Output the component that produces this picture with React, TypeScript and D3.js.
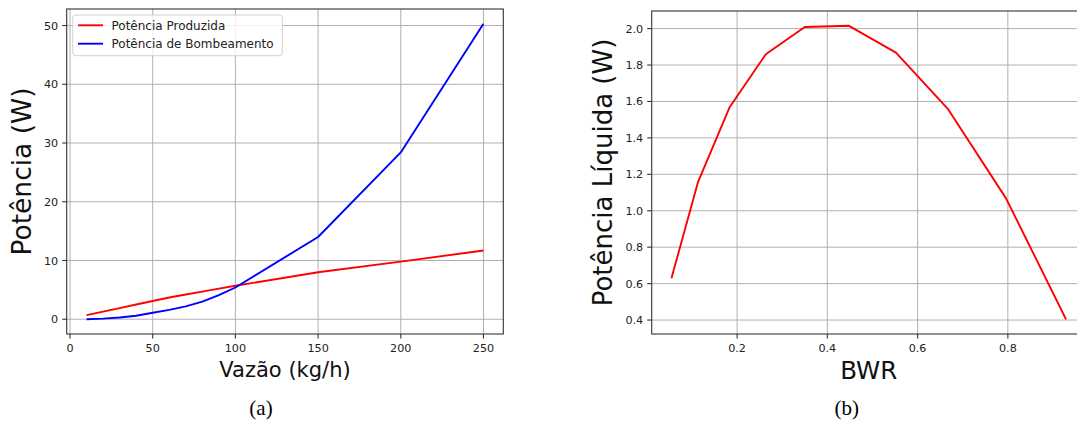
import React from "react";
import * as d3 from "d3";

// ---- Data (a) ----
const flowRates = [10, 20, 30, 40, 50, 60, 70, 80, 90, 100, 150, 200, 250];
const producedPower = [0.7, 1.3, 1.9, 2.5, 3.1, 3.7, 4.2, 4.7, 5.2, 5.7, 8.0, 9.8, 11.7];
const pumpingPower = [0.0, 0.1, 0.3, 0.6, 1.1, 1.6, 2.2, 3.0, 4.1, 5.4, 14.0, 28.4, 50.3];
const xTicksA = [0, 50, 100, 150, 200, 250];
const yTicksA = [0, 10, 20, 30, 40, 50];
const legendLabels = ["Potência Produzida", "Potência de Bombeamento"];

// ---- Data (b) ----
const bwr = [0.0545, 0.1136, 0.1838, 0.2636, 0.35, 0.447, 0.552, 0.6665, 0.796, 0.929];
const netPower = [0.629, 1.159, 1.57, 1.859, 2.009, 2.016, 1.868, 1.561, 1.068, 0.404];
const xTicksB = [0.2, 0.4, 0.6, 0.8];
const yTicksB = [0.4, 0.6, 0.8, 1.0, 1.2, 1.4, 1.6, 1.8, 2.0];

const FONT = "DejaVu Sans";
const GRID = "#b0b0b0";
const SPINE = "#333";
const TICKFS = 11.2;

function padExtent(vals: number[]): [number, number] {
  const [lo, hi] = d3.extent(vals) as [number, number];
  const m = (hi - lo) * 0.05;
  return [lo - m, hi + m];
}

type PanelProps = {
  left: number; right: number; top: number; bottom: number;
  xDomain: [number, number]; yDomain: [number, number];
  xTicks: number[]; yTicks: number[];
  xFmt: (v: number) => string; yFmt: (v: number) => string;
  series: { xs: number[]; ys: number[]; color: string }[];
  xLabel: string; xLabelSize: number; xLabelY: number;
  yLabel: string; yLabelSize: number; yLabelX: number;
  children?: React.ReactNode;
};

function Panel(p: PanelProps) {
  const x = d3.scaleLinear().domain(p.xDomain).range([p.left, p.right]);
  const y = d3.scaleLinear().domain(p.yDomain).range([p.bottom, p.top]);
  const clipId = `clip-${p.left}`;
  return (
    <g>
      <defs>
        <clipPath id={clipId}>
          <rect x={p.left} y={p.top} width={p.right - p.left} height={p.bottom - p.top} />
        </clipPath>
      </defs>
      {/* grid */}
      {p.xTicks.map((t) => (
        <line key={"gx" + t} x1={x(t)} x2={x(t)} y1={p.top} y2={p.bottom} stroke={GRID} strokeWidth={1} />
      ))}
      {p.yTicks.map((t) => (
        <line key={"gy" + t} x1={p.left} x2={p.right} y1={y(t)} y2={y(t)} stroke={GRID} strokeWidth={1} />
      ))}
      {/* lines */}
      <g clipPath={`url(#${clipId})`}>
        {p.series.map((s, i) => {
          const line = d3.line<number>().x((_, j) => x(s.xs[j])).y((v) => y(v));
          return <path key={i} d={line(s.ys) || ""} fill="none" stroke={s.color} strokeWidth={1.9} strokeLinejoin="round" />;
        })}
      </g>
      {/* spines */}
      <rect x={p.left} y={p.top} width={p.right - p.left} height={p.bottom - p.top} fill="none" stroke={SPINE} strokeWidth={1.1} />
      {/* ticks */}
      {p.xTicks.map((t) => (
        <g key={"tx" + t}>
          <line x1={x(t)} x2={x(t)} y1={p.bottom} y2={p.bottom + 4.5} stroke={SPINE} strokeWidth={1.1} />
          <text x={x(t)} y={p.bottom + 17.5} textAnchor="middle" fontFamily={FONT} fontSize={TICKFS} fill="#222">
            {p.xFmt(t)}
          </text>
        </g>
      ))}
      {p.yTicks.map((t) => (
        <g key={"ty" + t}>
          <line x1={p.left - 4.5} x2={p.left} y1={y(t)} y2={y(t)} stroke={SPINE} strokeWidth={1.1} />
          <text x={p.left - 8.5} y={y(t)} dy="0.36em" textAnchor="end" fontFamily={FONT} fontSize={TICKFS} fill="#222">
            {p.yFmt(t)}
          </text>
        </g>
      ))}
      {/* axis labels */}
      <text x={(p.left + Math.min(p.right, 1086)) / 2} y={p.xLabelY} textAnchor="middle" fontFamily={FONT} fontSize={p.xLabelSize} fill="#111">
        {p.xLabel}
      </text>
      <text
        transform={`translate(${p.yLabelX},${(p.top + p.bottom) / 2}) rotate(-90)`}
        textAnchor="middle" fontFamily={FONT} fontSize={p.yLabelSize} fill="#111"
      >
        {p.yLabel}
      </text>
      {p.children}
    </g>
  );
}

export default function App() {
  const colorsA = ["#ff0000", "#0000ff"];
  return (
    <svg width={1077} height={423} style={{ position: "absolute", left: 0, top: 0, background: "#fff" }}>
      <rect x={0} y={0} width={1077} height={423} fill="#fff" />
      <Panel
        left={66.7} right={503.3} top={9} bottom={334}
        xDomain={padExtent(flowRates)}
        yDomain={padExtent([...producedPower, ...pumpingPower])}
        xTicks={xTicksA} yTicks={yTicksA}
        xFmt={(v) => String(v)} yFmt={(v) => String(v)}
        series={[
          { xs: flowRates, ys: producedPower, color: colorsA[0] },
          { xs: flowRates, ys: pumpingPower, color: colorsA[1] },
        ]}
        xLabel="Vazão (kg/h)" xLabelSize={21} xLabelY={376.5}
        yLabel="Potência (W)" yLabelSize={26.5} yLabelX={31}
      >
        <g>
          <rect x={72.7} y={15} width={209.6} height={40.7} rx={3} fill="#fff" fillOpacity={0.8} stroke="#d0d0d0" strokeWidth={1} />
          {legendLabels.map((lab, i) => (
            <g key={lab}>
              <line x1={78} x2={103} y1={25.3 + i * 18.4} y2={25.3 + i * 18.4} stroke={colorsA[i]} strokeWidth={1.9} />
              <text x={111.5} y={25.3 + i * 18.4} dy="0.36em" fontFamily={FONT} fontSize={12} fill="#222">{lab}</text>
            </g>
          ))}
        </g>
      </Panel>
      <Panel
        left={651.7} right={1085.8} top={11} bottom={334}
        xDomain={padExtent(bwr)}
        yDomain={padExtent(netPower)}
        xTicks={xTicksB} yTicks={yTicksB}
        xFmt={(v) => v.toFixed(1)} yFmt={(v) => v.toFixed(1)}
        series={[{ xs: bwr, ys: netPower, color: "#ff0000" }]}
        xLabel="BWR" xLabelSize={24.5} xLabelY={379}
        yLabel="Potência Líquida (W)" yLabelSize={26} yLabelX={612}
      />
      <text x={261} y={415} textAnchor="middle" fontFamily="Liberation Serif" fontSize={21} fill="#000">(a)</text>
      <text x={846.7} y={415} textAnchor="middle" fontFamily="Liberation Serif" fontSize={21} fill="#000">(b)</text>
    </svg>
  );
}
